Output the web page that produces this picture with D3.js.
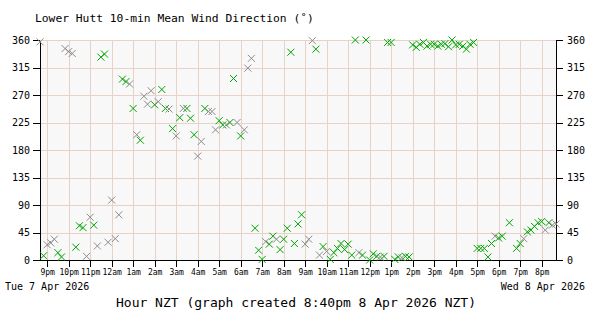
<!DOCTYPE html>
<html>
<head>
<meta charset="utf-8">
<script src="https://cdn.jsdelivr.net/npm/d3@7"></script>
<style>
  body { margin: 0; background: #fff; }
  text { font-family: "DejaVu Sans Mono", monospace; }
</style>
</head>
<body>
<div id="chart"></div>
<script>
// 10-min readings from 8:40pm Tue 7 Apr to 8:40pm Wed 8 Apr 2026 (null = no reading)
const startTime = new Date(2026, 3, 7, 20, 40);
const stepMinutes = 10;

const directions = [
  357, 7, 25, 28, 34, 12, 5, 346, 341, 338,
  21, 56, 53, 6, 70, 57, 23, 332, 337, 29,
  98, 35, 74, 296, 292, 288, 248, 205, 196, 268,
  255, 277, 254, 259, 279, 248, 247, 215, 203, 233,
  248, 248, 232, 205, 170, 194, 248, 243, 243, 213,
  228, 221, 221, 225, 297, 225, 203, 213, 314, 330,
  52, 16, 1, 30, 26, 39, 34, 17, 34, 52,
  340, 27, 59, 74, 26, 34, 359, 345, 8, 22,
  14, 1, 12, 19, 27, 17, 26, 8, 360, 12,
  8, 360, 0, 10, 6, 5, 6, 356, 356, 1,
  5, 4, 6, 5, 352, 348, 353, 356, 350, 353,
  353, 350, 353, 354, 349, 360, 352, 353, 350, 345,
  353, 356, 19, 19, 19, 5, 27, 39, 36, 39,
  null, 61, null, 19, 27, 35, 46, 49, 55, 61,
  63, 49, 61, 57, 59
];

// readings drawn in grey rather than green
const greyIndex = [
  0, 2, 3, 4, 7, 8, 9, 13, 14, 16, 19, 20, 21, 22, 25, 27, 29, 30, 31, 33,
  36, 38, 40, 44, 45, 47, 48, 49, 52, 55, 57, 58, 59, 63, 66, 74, 75, 76,
  78, 80, 89, 95, 101, 127, 135, 141, 143, 144
];

const yTicks = [0, 45, 90, 135, 180, 225, 270, 315, 360];

const title = "Lower Hutt 10-min Mean Wind Direction (\u02da)";
const xTitle = "Hour NZT (graph created 8:40pm 8 Apr 2026 NZT)";
const startLabel = "Tue 7 Apr 2026";
const endLabel = "Wed 8 Apr 2026";

const points = directions.map((v, i) => ({
  time: new Date(startTime.getTime() + i * stepMinutes * 60000),
  value: v,
  grey: greyIndex.includes(i)
})).filter(d => d.value !== null);

const width = 600, height = 320;
const plotLeft = 40, plotRight = 556, plotTop = 40, plotBottom = 260;

const svg = d3.select("#chart").append("svg")
  .attr("width", width)
  .attr("height", height);

const x = d3.scaleTime()
  .domain([startTime, new Date(startTime.getTime() + 24 * 3600000)])
  .range([plotLeft, plotRight]);

const y = d3.scaleLinear()
  .domain([0, 360])
  .range([plotBottom, plotTop]);

// plot background
svg.append("rect")
  .attr("x", plotLeft).attr("y", plotTop)
  .attr("width", plotRight - plotLeft).attr("height", plotBottom - plotTop)
  .attr("fill", "#f8f8f8");

const hourTicks = x.ticks(d3.timeHour.every(1));

// grid
svg.append("g").selectAll("line")
  .data(hourTicks)
  .join("line")
  .attr("x1", d => Math.round(x(d)) + 0.5).attr("x2", d => Math.round(x(d)) + 0.5)
  .attr("y1", plotTop).attr("y2", plotBottom)
  .attr("stroke", "#e8d2c8").attr("stroke-width", 1);

svg.append("g").selectAll("line")
  .data(yTicks.slice(1))
  .join("line")
  .attr("x1", plotLeft).attr("x2", plotRight)
  .attr("y1", d => Math.round(y(d)) + 0.5).attr("y2", d => Math.round(y(d)) + 0.5)
  .attr("stroke", "#e8d2c8").attr("stroke-width", 1);

// axes
const hourFormat = d => {
  const h = d.getHours();
  return (h % 12 || 12) + (h < 12 ? "am" : "pm");
};

const xAxis = svg.append("g")
  .attr("transform", `translate(0,${plotBottom})`)
  .call(d3.axisBottom(x).tickValues(hourTicks).tickFormat(hourFormat)
    .tickSize(7).tickSizeOuter(0).tickPadding(2));
xAxis.selectAll("text").attr("font-size", "8px").attr("fill", "#000")
  .style("font-family", "'DejaVu Sans Mono', monospace");

const yLeft = svg.append("g")
  .attr("transform", `translate(${plotLeft},0)`)
  .call(d3.axisLeft(y).tickValues(yTicks).tickSize(7).tickSizeOuter(0).tickPadding(3));

const yRight = svg.append("g")
  .attr("transform", `translate(${plotRight},0)`)
  .call(d3.axisRight(y).tickValues(yTicks).tickSize(7).tickSizeOuter(0).tickPadding(4));

[yLeft, yRight].forEach(a => a.selectAll("text")
  .attr("font-size", "10px").attr("fill", "#000")
  .style("font-family", "'DejaVu Sans Mono', monospace"));

svg.selectAll(".domain, .tick line").attr("stroke", "#000").attr("shape-rendering", "crispEdges");

// markers
const s = 3.5;
svg.append("g").selectAll("path")
  .data(points)
  .join("path")
  .attr("d", d => {
    const cx = x(d.time), cy = y(d.value);
    return `M${cx - s},${cy - s}L${cx + s},${cy + s}M${cx - s},${cy + s}L${cx + s},${cy - s}`;
  })
  .attr("stroke", d => d.grey ? "#8c8c8c" : "#00a400")
  .attr("stroke-width", 1)
  .attr("fill", "none");

// texts
svg.append("text")
  .attr("x", 35).attr("y", 22)
  .attr("font-size", "11.3px")
  .text(title);

svg.append("text")
  .attr("x", 5).attr("y", 290)
  .attr("font-size", "10px")
  .text(startLabel);

svg.append("text")
  .attr("x", 585).attr("y", 290)
  .attr("text-anchor", "end")
  .attr("font-size", "10px")
  .text(endLabel);

svg.append("text")
  .attr("x", 296).attr("y", 307)
  .attr("text-anchor", "middle")
  .attr("font-size", "13px")
  .text(xTitle);
</script>
</body>
</html>
